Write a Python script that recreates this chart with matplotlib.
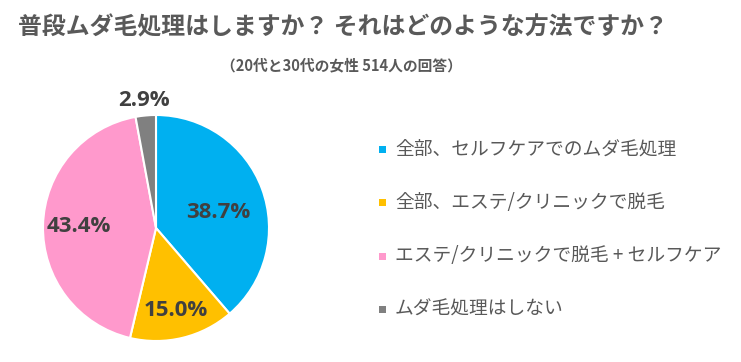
import matplotlib
matplotlib.use("Agg")
import matplotlib.pyplot as plt
import numpy as np

plt.rcParams['font.family'] = ['Noto Sans CJK JP', 'DejaVu Sans']

title = "普段ムダ毛処理はしますか？ それはどのような方法ですか？"
subtitle = "（20代と30代の女性 514人の回答）"
categories = ["全部、セルフケアでのムダ毛処理", "全部、エステ/クリニックで脱毛",
              "エステ/クリニックで脱毛 + セルフケア", "ムダ毛処理はしない"]
values = [38.7, 15.0, 43.4, 2.9]
colors = ["#00B0F0", "#FFC000", "#FF99CC", "#808080"]
label_radius = [0.57, 0.75, 0.68, 1.13]
label_angle_shift = [-6, 0, 0, 0]

W, H = 741, 362
fig = plt.figure(figsize=(W / 100, H / 100), dpi=100)

cx, cy, r = 156, 228, 113
ax = fig.add_axes([(cx - r) / W, (H - cy - r) / H, 2 * r / W, 2 * r / H])
wedges, _ = ax.pie(values, colors=colors, startangle=90, counterclock=False,
                   wedgeprops=dict(edgecolor="white", linewidth=1.5), radius=1.0)
ax.set_xlim(-1, 1)
ax.set_ylim(-1, 1)
ax.set_aspect("equal")
ax.axis("off")

for w, v, rd, sh in zip(wedges, values, label_radius, label_angle_shift):
    ang = np.deg2rad((w.theta1 + w.theta2) / 2 + sh)
    ax.text(rd * np.cos(ang), rd * np.sin(ang), f"{v:.1f}%", ha="center", va="center",
            fontsize=16, fontweight="bold", color="#404040",
            family=["Open Sans", "DejaVu Sans"], clip_on=False)

fig.text(18 / W, 1 - 27 / H, title, ha="left", va="center", fontsize=17.2,
         fontweight="bold", color="#595959")
fig.text(341 / W, 1 - 65 / H, subtitle, ha="center", va="center", fontsize=10.6,
         fontweight="bold", color="#595959")

leg_y = [149, 203, 256, 309]
for cat, col, y in zip(categories, colors, leg_y):
    fig.patches.append(plt.Rectangle(((379) / W, 1 - (y + 3.5) / H), 7 / W, 7 / H,
                                     transform=fig.transFigure, facecolor=col,
                                     edgecolor="none"))
    fig.text(395 / W, 1 - y / H, cat, ha="left", va="center", fontsize=13.5,
             color="#595959")

fig.savefig("out.png", dpi=100, facecolor="white")
